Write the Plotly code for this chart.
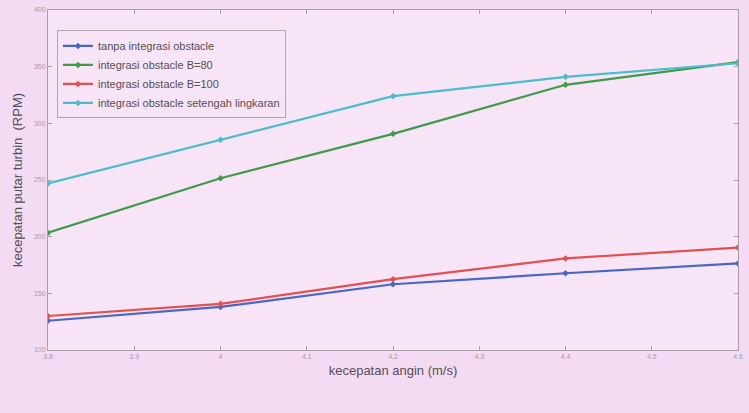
import plotly.graph_objects as go

wind_speed = [3.8, 4.0, 4.2, 4.4, 4.6]
tanpa_integrasi = [125.8, 138.0, 158.0, 167.7, 176.4]
integrasi_b80 = [203.5, 251.5, 290.7, 334.0, 354.0]
integrasi_b100 = [130.0, 140.7, 162.5, 180.8, 190.4]
integrasi_setengah = [247.0, 285.5, 324.0, 341.0, 353.0]

series_names = [
    "tanpa integrasi obstacle",
    "integrasi obstacle B=80",
    "integrasi obstacle B=100",
    "integrasi obstacle setengah lingkaran",
]
series_values = [tanpa_integrasi, integrasi_b80, integrasi_b100, integrasi_setengah]
series_colors = ["#4a66c4", "#3f9a4a", "#e2504f", "#4bbccb"]

x_ticks = [3.8, 3.9, 4.0, 4.1, 4.2, 4.3, 4.4, 4.5, 4.6]
x_tick_labels = ["3.8", "3.9", "4", "4.1", "4.2", "4.3", "4.4", "4.5", "4.6"]
y_ticks = [100, 150, 200, 250, 300, 350, 400]

fig = go.Figure()
for name, vals, col in zip(series_names, series_values, series_colors):
    fig.add_trace(go.Scatter(
        x=wind_speed, y=vals, name=name, mode="lines+markers",
        line=dict(color=col, width=2.2),
        marker=dict(symbol="diamond", size=5, color=col),
    ))

axis_common = dict(
    showline=True, linecolor="#a8a0a8", linewidth=1, mirror="ticks",
    ticks="inside", ticklen=4, tickcolor="#a8a0a8",
    showgrid=False, zeroline=False,
    tickfont=dict(family="Liberation Sans, Arial", size=7, color="#a89aa8"),
)

fig.update_layout(
    width=749, height=413,
    margin=dict(l=48, r=7, t=6, b=63),
    paper_bgcolor="#f4dbf4",
    plot_bgcolor="#f7e4f7",
    font=dict(family="Liberation Sans, Arial", color="#555055"),
    showlegend=True,
    legend=dict(
        x=0.013, y=0.94, xanchor="left", yanchor="top",
        bgcolor="rgba(247,228,247,0.6)", bordercolor="#b0a8b0", borderwidth=1,
        font=dict(size=11, color="#555055"), tracegroupgap=0,
        itemwidth=30,
    ),
    xaxis=dict(
        range=[3.8, 4.6], tickvals=x_ticks, ticktext=x_tick_labels,
        title=dict(text="kecepatan angin (m/s)", font=dict(size=13, color="#555055"), standoff=6),
        **axis_common,
    ),
    yaxis=dict(
        range=[100, 400], tickvals=y_ticks,
        title=dict(text="kecepatan putar turbin  (RPM)", font=dict(size=13, color="#555055"), standoff=8),
        **axis_common,
    ),
)

fig.write_html("out.html")
